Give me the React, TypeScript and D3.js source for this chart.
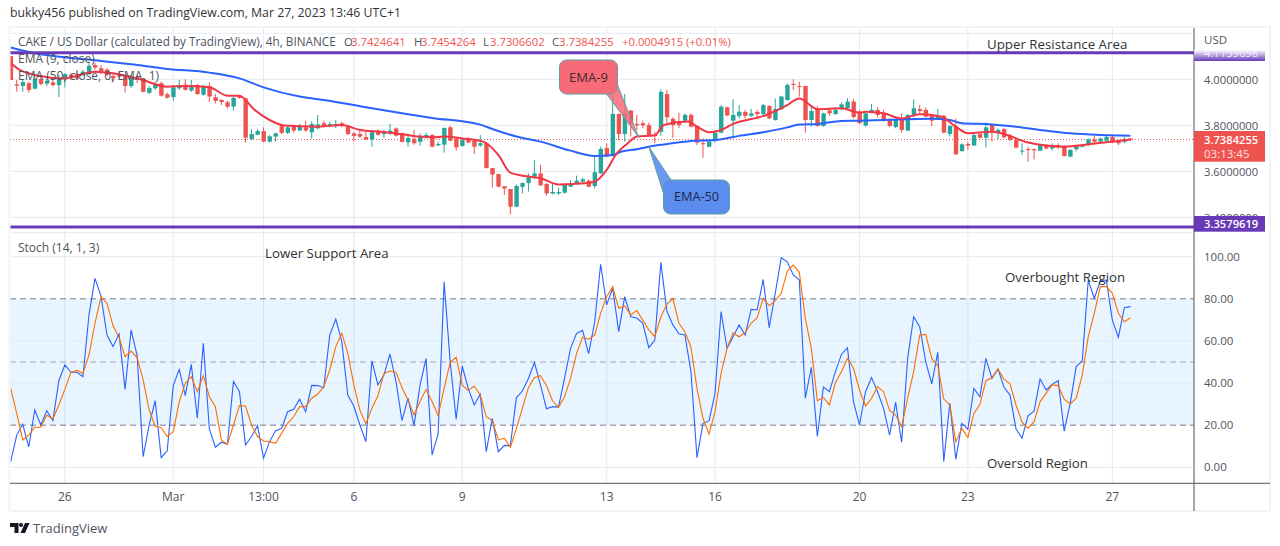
import React from 'react';
import * as d3 from 'd3';

const FONT = '"Open Sans", sans-serif';
const UP = '#26a69a';
const DOWN = '#ef5350';
const PURPLE = '#673ab7';
const GRID = '#e3ebf2';
const TEXT = '#50535e';

// 4h candles, oldest first
const candleOpen = [
  4.101,3.978,3.971,3.983,3.959,4.001,3.981,3.987,3.975,4.000,
  4.020,4.023,4.019,4.023,4.062,4.048,4.042,4.014,4.019,4.014,
  3.971,4.009,4.004,3.941,3.961,3.983,3.935,3.923,3.961,3.977,
  3.951,3.974,3.933,3.970,3.922,3.910,3.900,3.881,3.925,3.917,
  3.741,3.759,3.775,3.729,3.751,3.797,3.767,3.794,3.778,3.791,
  3.770,3.787,3.809,3.797,3.797,3.809,3.794,3.765,3.762,3.749,
  3.739,3.775,3.762,3.765,3.786,3.765,3.726,3.741,3.728,3.748,
  3.758,3.713,3.716,3.791,3.741,3.710,3.743,3.733,3.712,3.722,
  3.614,3.588,3.535,3.523,3.446,3.532,3.549,3.577,3.591,3.545,
  3.503,3.504,3.507,3.533,3.545,3.555,3.559,3.536,3.591,3.701,
  3.667,3.849,3.762,3.864,3.806,3.809,3.801,3.758,3.772,3.936,
  3.828,3.816,3.820,3.845,3.797,3.722,3.707,3.732,3.768,3.878,
  3.820,3.841,3.858,3.841,3.858,3.849,3.884,3.823,3.870,3.910,
  3.980,3.971,3.971,3.823,3.871,3.797,3.865,3.849,3.871,3.874,
  3.903,3.859,3.799,3.857,3.867,3.849,3.828,3.793,3.830,3.777,
  3.841,3.870,3.867,3.841,3.826,3.841,3.762,3.794,3.688,3.719,
  3.712,3.762,3.746,3.801,3.771,3.784,3.754,3.736,3.686,3.697,
  3.696,3.690,3.714,3.699,3.714,3.707,3.664,3.696,3.707,3.716,
  3.739,3.729,3.733,3.749,3.730,3.728,3.7425,
];
const candleHigh = [
  4.101,3.997,3.997,3.990,4.019,4.012,4.004,3.997,4.019,4.026,
  4.026,4.029,4.041,4.070,4.072,4.062,4.048,4.023,4.033,4.019,
  4.019,4.019,4.007,3.971,3.990,3.990,3.942,3.975,3.997,4.000,
  3.997,3.980,3.975,3.987,3.936,3.914,3.907,3.925,3.932,3.920,
  3.783,3.783,3.791,3.758,3.768,3.801,3.797,3.799,3.806,3.820,
  3.816,3.845,3.820,3.816,3.823,3.816,3.801,3.772,3.777,3.772,
  3.780,3.783,3.780,3.806,3.791,3.768,3.765,3.780,3.765,3.768,
  3.762,3.729,3.791,3.797,3.746,3.743,3.748,3.736,3.758,3.725,
  3.614,3.588,3.536,3.523,3.543,3.552,3.591,3.648,3.628,3.548,
  3.548,3.528,3.545,3.562,3.581,3.572,3.565,3.667,3.707,3.722,
  3.932,3.852,3.936,3.867,3.845,3.820,3.812,3.772,3.957,3.954,
  3.835,3.855,3.852,3.852,3.801,3.743,3.739,3.780,3.888,3.881,
  3.913,3.888,3.867,3.871,3.867,3.893,3.888,3.917,3.929,3.983,
  4.000,3.990,3.971,3.884,3.884,3.855,3.874,3.878,3.900,3.917,
  3.913,3.867,3.855,3.893,3.878,3.867,3.830,3.830,3.852,3.848,
  3.913,3.888,3.877,3.845,3.871,3.845,3.801,3.830,3.722,3.729,
  3.762,3.765,3.812,3.806,3.787,3.787,3.762,3.739,3.722,3.707,
  3.699,3.719,3.719,3.722,3.722,3.714,3.696,3.713,3.719,3.743,
  3.754,3.748,3.762,3.754,3.736,3.751,3.7454,
];
const candleLow = [
  3.997,3.946,3.946,3.942,3.957,3.974,3.971,3.968,3.923,3.965,
  3.997,3.997,4.014,4.019,4.041,4.023,4.014,3.986,4.004,3.942,
  3.961,3.983,3.943,3.936,3.954,3.925,3.916,3.907,3.954,3.951,
  3.946,3.932,3.929,3.903,3.896,3.888,3.874,3.864,3.916,3.725,
  3.736,3.757,3.726,3.726,3.729,3.762,3.762,3.768,3.774,3.772,
  3.742,3.783,3.790,3.791,3.787,3.791,3.758,3.729,3.745,3.736,
  3.707,3.755,3.745,3.758,3.751,3.725,3.707,3.716,3.712,3.742,
  3.704,3.710,3.681,3.729,3.690,3.707,3.722,3.675,3.707,3.612,
  3.529,3.530,3.497,3.413,3.446,3.504,3.512,3.567,3.536,3.494,
  3.500,3.497,3.504,3.533,3.541,3.551,3.530,3.526,3.588,3.661,
  3.664,3.736,3.729,3.751,3.780,3.787,3.754,3.722,3.754,3.809,
  3.746,3.787,3.812,3.791,3.714,3.658,3.704,3.725,3.765,3.840,
  3.743,3.830,3.830,3.836,3.826,3.838,3.826,3.820,3.867,3.907,
  3.954,3.925,3.768,3.794,3.794,3.794,3.841,3.845,3.867,3.867,
  3.830,3.806,3.794,3.852,3.835,3.816,3.791,3.787,3.768,3.775,
  3.838,3.852,3.835,3.797,3.823,3.765,3.751,3.671,3.685,3.693,
  3.710,3.743,3.704,3.729,3.739,3.743,3.732,3.700,3.672,3.642,
  3.652,3.688,3.696,3.690,3.696,3.664,3.661,3.687,3.704,3.711,
  3.714,3.722,3.728,3.722,3.714,3.722,3.7307,
];
const candleClose = [
  3.997,3.972,3.988,3.954,4.001,3.980,3.993,3.975,4.001,4.023,
  4.009,4.003,4.033,4.059,4.051,4.033,4.019,4.004,4.012,3.971,
  4.009,3.997,3.946,3.962,3.980,3.929,3.920,3.965,3.975,3.954,
  3.975,3.936,3.971,3.925,3.906,3.901,3.881,3.919,3.919,3.746,
  3.762,3.775,3.729,3.752,3.765,3.767,3.791,3.777,3.793,3.777,
  3.806,3.804,3.794,3.806,3.806,3.797,3.762,3.754,3.751,3.739,
  3.770,3.759,3.771,3.777,3.755,3.728,3.745,3.722,3.749,3.758,
  3.707,3.719,3.788,3.733,3.704,3.736,3.725,3.707,3.722,3.614,
  3.586,3.533,3.525,3.446,3.536,3.549,3.574,3.591,3.539,3.504,
  3.510,3.510,3.542,3.545,3.559,3.565,3.533,3.596,3.697,3.664,
  3.849,3.762,3.852,3.806,3.800,3.800,3.758,3.754,3.945,3.835,
  3.801,3.801,3.845,3.794,3.725,3.719,3.729,3.767,3.881,3.843,
  3.845,3.859,3.841,3.852,3.849,3.888,3.830,3.871,3.925,3.975,
  3.975,3.968,3.823,3.862,3.797,3.852,3.852,3.867,3.891,3.903,
  3.836,3.809,3.852,3.867,3.845,3.820,3.797,3.826,3.780,3.845,
  3.874,3.862,3.838,3.820,3.841,3.768,3.797,3.674,3.717,3.712,
  3.758,3.746,3.791,3.770,3.780,3.748,3.736,3.703,3.690,3.693,
  3.691,3.714,3.699,3.706,3.710,3.667,3.693,3.707,3.713,3.739,
  3.729,3.742,3.749,3.728,3.722,3.739,3.7384,
];

// EMA lines at their turning points (bar index, price)
const ema9Bars = [0,1.5,4,9,11.5,14,17,21.5,26,29,33,36,38,40.5,43,45.5,51,55,58,61.5,65,68,70,72,75,78.5,81,83,86,88,91,93.5,97,99,100.5,102.5,104,107,108.5,112.5,114,116,117.5,120,125.5,129,131,134,138,141,142,145,148,151,154.5,157,159,163,165.5,169,175,179,184,186];
const ema9Values = [4.070,4.041,4.019,4.004,4.019,4.033,4.026,4.000,3.968,3.971,3.965,3.929,3.928,3.867,3.823,3.799,3.794,3.801,3.780,3.772,3.761,3.751,3.748,3.751,3.743,3.729,3.671,3.594,3.577,3.570,3.543,3.545,3.555,3.606,3.671,3.722,3.751,3.757,3.801,3.816,3.794,3.770,3.775,3.806,3.845,3.888,3.917,3.870,3.874,3.855,3.859,3.852,3.830,3.848,3.838,3.794,3.765,3.772,3.758,3.725,3.707,3.717,3.732,3.738];
const ema50Bars = [0,4,9,15,20,26,33,38,42,48,52,57,60,65,70,78,80,84,88,93,97,100,101.5,104,106,108.5,113,117,121,125.5,129,131,134,138,141,145,153,156,158,163,167,171,176,181,186];
const ema50Values = [4.138,4.113,4.096,4.080,4.065,4.045,4.029,4.004,3.965,3.925,3.910,3.888,3.874,3.852,3.832,3.803,3.784,3.751,3.729,3.690,3.667,3.671,3.686,3.696,3.707,3.717,3.732,3.736,3.754,3.772,3.791,3.803,3.806,3.819,3.820,3.823,3.828,3.823,3.809,3.804,3.794,3.780,3.765,3.758,3.755];

const stochK = [
  2.7,15.3,20.4,9.7,27.2,20.1,26.9,22.2,41.1,48.6,
  45.1,45.1,43,72.3,89.7,81.3,62.8,57.3,63.3,37,
  65.2,53,5,20,31.6,4.6,7.8,38.8,46.5,34,
  48.9,23.3,58.9,18.2,9.5,11.9,10.9,40.7,35.9,10.6,
  14.6,19.8,4.3,12.2,17.4,18.4,26.4,27.5,32.3,26.4,
  38.9,38.8,37.8,62.8,70.4,59.7,34.3,29.1,20.1,12.2,
  50.5,39.1,43.8,53.8,40.7,22.2,32.8,19.8,39.1,51.7,
  5.9,15.8,88.1,50.2,22.8,48.1,37.5,29.6,34.7,7.4,
  23.3,7.4,10.4,10.3,33.1,36.2,42.2,49.7,39.1,27.8,
  28.8,28.6,42.2,56.5,63.6,65,54,68.8,96.4,77.1,
  85,64.4,81,71.5,70.9,68.4,56.8,60.4,97.3,74.2,
  67.6,63.4,62.8,45.4,4.6,20.9,22,35.1,73.9,56.5,
  62,67.6,62.8,75,74.8,89.2,66.3,82.6,99.5,97.6,
  91.3,88.9,32.8,47.5,14.6,38.1,35.9,45.4,53.6,56.8,
  31.2,20.1,35.9,42.6,35.9,28,15.3,30.9,11.9,51.7,
  71.5,66.8,50.2,39.6,54.6,2.7,30.4,3.8,20.9,18,
  37.5,33.5,51.7,42.2,46.7,38,34.3,18.2,13.8,24.5,
  26.7,41.9,36.7,39.4,41.1,17.2,30.4,47.8,50.5,88.9,
  80.2,88.6,88.9,69.9,61.7,75.8,76.3,
];
const stochD = [
  37.5,25.6,13,15.3,19,19,24.8,22.8,29.6,37,
  45.1,46,44.6,53.3,68.4,80.9,77.8,67.2,61.7,52.5,
  55.2,52.1,41.5,27.2,19.6,18.8,14.6,16.9,31.2,39.9,
  43,35.9,43.5,33.5,28.8,13,10.9,20.1,29.3,29.1,
  20.1,14.6,12.5,12.2,11.4,16.1,20.9,24,28.8,28.8,
  32.8,34.8,38.3,46.2,57.3,63.6,54.1,39.1,27.2,20.6,
  28,34,44.6,45.7,45.1,37.8,32,24.8,31.2,37,
  31.2,24.5,37.5,49.8,52.2,39.1,36.4,38.6,34.3,24,
  22.2,13,13.8,9.5,18.5,28,37.8,42.7,43.5,38.8,
  31.6,28.5,33.5,42.2,54.1,61.7,60.8,62.8,73.1,81,
  85.8,75.5,76.6,72.3,74.4,69.9,65.2,62,71.5,77.4,
  80.2,68.4,64.4,57,37.5,23.3,15.8,26.4,44.6,56.5,
  63.9,62,63.9,68.4,71,80.2,76.7,79.1,82.6,93.2,
  96,92.6,70.7,56.5,31.6,33.2,29.6,40.2,45.4,51.7,
  47,36.7,29.1,32.8,38.3,35.9,26.9,24.8,19.3,32.8,
  45.4,62.8,63.1,51.7,48.3,32.4,29.6,12.2,18.5,14.2,
  25.6,29.9,41.1,42.6,46.7,41.9,39.6,29.6,21.4,18.5,
  21.7,31.2,35.1,39.1,38.8,32.4,30.1,32.8,43.8,62,
  73.1,85.8,85.8,82.6,73.1,69.1,71,
];

const dateTickBars = [9,27,42,57,75,99,117,141,159,183];
const dateTickLabels = ['26','Mar','13:00','6','9','13','16','20','23','27'];
const priceTicks = [4.2,4.0,3.8,3.6,3.4];
const stochTicks = [100,80,60,40,20,0];
const RESISTANCE = 4.1159698;
const SUPPORT = 3.3579619;
const LAST_PRICE = 3.7384255;

const titleParts = ['CAKE / US Dollar (calculated by TradingView), 4h, BINANCE','O','3.7424641','H','3.7454264','L','3.7306602','C','3.7384255','+0.0004915 (+0.01%)'];
const titleColors = [TEXT,TEXT,DOWN,TEXT,DOWN,TEXT,DOWN,TEXT,DOWN,DOWN];
const titleLefts = [18,344,351,414,421,483,490,552,559,622];

const x = d3.scaleLinear().domain([0, 186]).range([10.7, 1130.4]);
const yPrice = d3.scaleLinear().domain([3.4, 4.0]).range([217.3, 79.3]);
const yStoch = d3.scaleLinear().domain([0, 100]).range([467.3, 256.7]);

const PANE_L = 10, AXIS_X = 1194, FRAME_R = 1270, TOP = 28, PANE_SPLIT = 232.7, TIME_Y = 483.3, BOTTOM = 511;

const emaLine = d3.line<number>().x(d => d).curve(d3.curveMonotoneX);
const pathOf = (bars: number[], vals: number[]) =>
  emaLine.x((_, i) => x(bars[i])).y((_, i) => yPrice(vals[i]))(vals) as string;
const stochLine = (vals: number[]) =>
  d3.line<number>().x((_, i) => x(i)).y(d => yStoch(d))(vals) as string;

const Label = ({ at, y, s, size = 12, fill = TEXT, anchor = 'start', weight = 400 }: any) => (
  <text x={at} y={y} fontSize={size} fill={fill} textAnchor={anchor} fontWeight={weight} fontFamily={FONT}>{s}</text>
);

export default function App() {
  const lastY = yPrice(LAST_PRICE);
  const tip9 = [x(104.3), yPrice(3.749)];
  const tip50 = [x(106), yPrice(3.707)];
  return (
    <svg width={1280} height={546} style={{ position: 'absolute', left: 0, top: 0, background: '#fff' }}>
      <defs>
        <clipPath id="pane"><rect x={PANE_L} y={TOP} width={AXIS_X - PANE_L} height={PANE_SPLIT - TOP} /></clipPath>
        <clipPath id="upperTag"><rect x={AXIS_X} y={50} width={71} height={11} /></clipPath>
        <linearGradient id="fade" x1="0" x2="0" y1="0" y2="1">
          <stop offset="0" stopColor="#fff" />
          <stop offset="1" stopColor={PURPLE} />
        </linearGradient>
      </defs>

      <Label at={10} y={17} size={12.3} fill="#333" s="bukky456 published on TradingView.com, Mar 27, 2023 13:46 UTC+1" />

      {/* grid */}
      {dateTickBars.map(b => <line key={b} x1={x(b)} x2={x(b)} y1={TOP} y2={TIME_Y} stroke={GRID} />)}
      {priceTicks.map(p => <line key={p} x1={PANE_L} x2={AXIS_X} y1={yPrice(p)} y2={yPrice(p)} stroke={GRID} />)}
      <rect x={PANE_L} y={yStoch(80)} width={AXIS_X - PANE_L} height={yStoch(20) - yStoch(80)} fill="#2196f3" fillOpacity={0.1} />
      {stochTicks.filter(t => t !== 80 && t !== 20).map(t => <line key={t} x1={PANE_L} x2={AXIS_X} y1={yStoch(t)} y2={yStoch(t)} stroke={GRID} />)}
      {[80, 50, 20].map(t => (
        <line key={t} x1={PANE_L} x2={AXIS_X} y1={yStoch(t)} y2={yStoch(t)} stroke="#787b86" strokeOpacity={t === 50 ? 0.6 : 1} strokeDasharray="6 4" />
      ))}
      <line x1={PANE_L} x2={AXIS_X} y1={PANE_SPLIT} y2={PANE_SPLIT} stroke={GRID} />

      {/* last price */}
      <line x1={PANE_L} x2={AXIS_X} y1={lastY} y2={lastY} stroke={DOWN} strokeDasharray="1 2" />

      {/* candles */}
      <g clipPath="url(#pane)">
        {candleOpen.map((o, i) => {
          const c = candleClose[i];
          const col = c >= o ? UP : DOWN;
          const top = yPrice(Math.max(o, c));
          const h = Math.max(1, yPrice(Math.min(o, c)) - top);
          return (
            <g key={i} fill={col}>
              <rect x={x(i) - 0.5} width={1} y={yPrice(candleHigh[i])} height={yPrice(candleLow[i]) - yPrice(candleHigh[i])} />
              <rect x={x(i) - 2} width={4.4} y={top} height={h} />
            </g>
          );
        })}
        <path d={pathOf(ema50Bars, ema50Values)} fill="none" stroke="#2962ff" strokeWidth={2} />
        <path d={pathOf(ema9Bars, ema9Values)} fill="none" stroke="#f23645" strokeWidth={2} />
      </g>

      {/* support and resistance */}
      <line x1={PANE_L} x2={AXIS_X} y1={yPrice(RESISTANCE)} y2={yPrice(RESISTANCE)} stroke={PURPLE} strokeWidth={3} />
      <line x1={PANE_L} x2={AXIS_X} y1={yPrice(SUPPORT)} y2={yPrice(SUPPORT)} stroke={PURPLE} strokeWidth={3} />

      {/* stochastic */}
      <path d={stochLine(stochK)} fill="none" stroke="#2962ff" strokeWidth={1.1} />
      <path d={stochLine(stochD)} fill="none" stroke="#ff6d00" strokeWidth={1.1} />

      {/* legends */}
      {titleParts.map((t, i) => <Label key={i} at={titleLefts[i]} y={46} s={t} fill={titleColors[i]} size={i === 0 ? 11.75 : 11.3} />)}
      <Label at={18} y={63} s="EMA (9, close)" />
      <Label at={18} y={80} s="EMA (50, close, 0, EMA, 1)" />
      <Label at={18} y={252} s="Stoch (14, 1, 3)" />

      {/* callouts */}
      <g stroke="#5b9ea6" strokeWidth={1}>
        <path d={`M606 93L${tip9[0]} ${tip9[1]}L617 84Z`} fill="#f96a78" fillOpacity={0.85} />
        <rect x={559.5} y={60} width={58} height={34} rx={7} fill="#f96a78" />
        <path d={`M${tip50[0]} ${tip50[1]}L671 180L664 195Z`} fill="#5b8def" fillOpacity={0.9} />
        <rect x={663.5} y={180} width={66} height={34} rx={7} fill="#5b8def" />
      </g>
      <Label at={588.5} y={82} s="EMA-9" size={13} fill="#3a2a30" anchor="middle" />
      <Label at={696.5} y={201} s="EMA-50" size={12.7} fill="#1c2a4a" anchor="middle" />

      {/* notes */}
      <Label at={987} y={49} s="Upper Resistance Area" size={13.3} fill="#333" />
      <Label at={265} y={258} s="Lower Support Area" size={13.3} fill="#333" />
      <Label at={1005} y={282} s="Overbought Region" size={13.3} fill="#333" />
      <Label at={987} y={468} s="Oversold Region" size={13.2} fill="#333" />

      {/* frame and axes */}
      <rect x={9.5} y={27} width={FRAME_R - 9.5} height={BOTTOM - 27} fill="none" stroke="#f0f3fa" strokeWidth={2} />
      <line x1={AXIS_X} x2={AXIS_X} y1={TOP} y2={BOTTOM} stroke="#50535e" />
      <line x1={PANE_L} x2={FRAME_R} y1={TIME_Y} y2={TIME_Y} stroke="#50535e" />

      <Label at={1204} y={44} s="USD" size={11.5} />
      {priceTicks.slice(1).map(p => <Label key={p} at={1204} y={yPrice(p) + 4.5} s={p.toFixed(7)} size={11.2} />)}
      {stochTicks.map(t => <Label key={t} at={1204} y={yStoch(t) + 4} s={t.toFixed(2)} size={11.5} />)}
      {dateTickBars.map((b, i) => <Label key={b} at={x(b)} y={501} s={dateTickLabels[i]} anchor="middle" />)}

      {/* price tags */}
      <rect x={AXIS_X} y={50} width={71} height={11} fill="url(#fade)" />
      <g clipPath="url(#upperTag)"><Label at={1204} y={57} s={RESISTANCE.toFixed(7)} fill="#f3eefa" size={11.2} /></g>
      <rect x={AXIS_X} y={216} width={71} height={15.7} fill={PURPLE} />
      <Label at={1204} y={228} s={SUPPORT.toFixed(7)} fill="#fff" weight={600} size={11.2} />
      <rect x={AXIS_X} y={131} width={71} height={30.7} fill={DOWN} />
      <Label at={1204} y={143.5} s={LAST_PRICE.toFixed(7)} fill="#fff" weight={600} size={11.2} />
      <Label at={1204} y={158} s="03:13:45" fill="#fde3e2" size={11.5} />

      {/* logo */}
      <path d="M10 523h8.5v10h-4v-6H10z" fill="#131722" />
      <circle cx={21} cy={525} r={2} fill="#131722" />
      <path d="M25 523h4.5l-4.5 10h-4.5z" fill="#131722" />
      <Label at={33} y={533} s="TradingView" size={13} fill="#50535e" />
    </svg>
  );
}
